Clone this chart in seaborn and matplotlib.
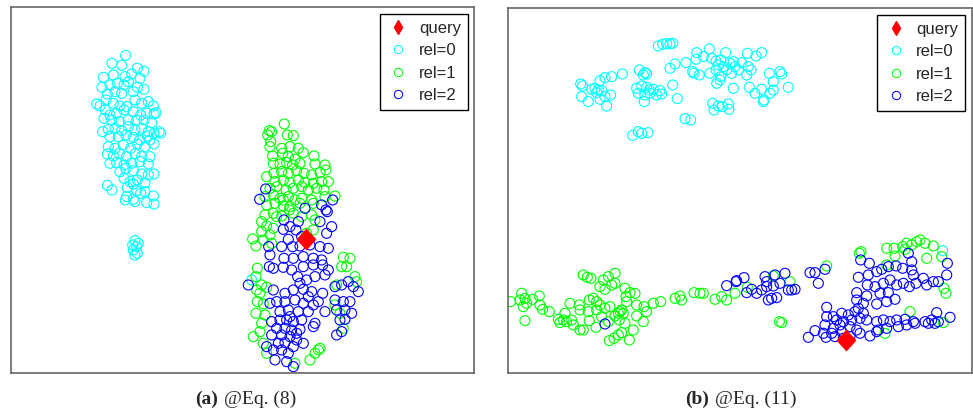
import numpy as np
import matplotlib
matplotlib.use("Agg")
import matplotlib.pyplot as plt
from matplotlib.lines import Line2D
import seaborn as sns

# embedding coordinates (screen units, y grows downward)
a_rel0 = [(377,166),(336,190),(365,196),(412,205),(432,214),(310,232),(340,225),(375,230),(395,222),(420,235),
          (306,262),(330,255),(352,250),(372,255),(385,245),(412,262),(432,268),(322,282),(345,275),(365,280),
          (400,275),(290,312),(318,300),(340,310),(360,318),(380,320),(405,300),(425,310),(445,305),(460,318),
          (316,330),(330,345),(350,340),(372,330),(400,335),(422,345),(440,340),(462,342),(312,355),(335,360),
          (358,365),(385,360),(410,360),(432,360),(455,368),(308,395),(325,388),(345,385),(365,392),(385,380),
          (405,390),(425,385),(445,395),(462,400),(478,395),(330,410),(355,410),(378,405),(400,412),(420,420),
          (442,408),(450,420),(325,440),(345,445),(370,435),(392,445),(412,432),(435,440),(462,432),(322,462),
          (340,468),(358,460),(380,470),(405,462),(425,470),(450,470),(330,490),(350,488),(372,495),(395,490),
          (420,485),(445,492),(360,515),(378,505),(400,512),(425,522),(445,525),(462,522),(372,535),(390,545),
          (412,540),(435,548),(382,562),(400,552),(322,556),(336,570),(410,572),(435,575),(380,590),(400,598),
          (422,580),(460,588),(376,600),(405,605),(440,608),(462,612),(405,722),(398,735),(410,740),(400,750),
          (412,760),(405,765),(415,730),(755,840),(482,400),(300,318),(468,338)]
a_rel1 = [(853,372),(808,392),(803,405),(815,395),(862,405),(880,407),(812,425),(810,440),(845,445),(870,440),
          (895,445),(910,458),(942,468),(818,468),(848,460),(865,470),(885,478),(820,490),(840,492),(860,488),
          (878,495),(900,490),(945,492),(975,495),(978,510),(800,530),(822,520),(845,515),(865,520),(890,512),
          (912,520),(935,525),(960,518),(825,545),(850,540),(870,548),(895,540),(915,548),(940,550),(965,545),
          (985,545),(810,565),(830,560),(858,570),(880,565),(905,560),(925,570),(950,565),(972,570),(795,590),
          (820,585),(840,595),(865,590),(885,600),(905,595),(935,600),(975,590),(1005,588),(800,615),(825,610),
          (850,618),(870,620),(900,610),(940,610),(795,645),(820,640),(845,648),(880,640),(905,650),(935,645),
          (945,660),(785,665),(800,678),(820,685),(785,695),(810,705),(758,717),(768,738),(790,720),(815,730),
          (940,690),(920,700),(772,805),(768,830),(785,855),(770,870),(800,862),(780,880),(772,905),(790,912),
          (768,940),(795,945),(785,970),(780,995),(760,1010),(790,1030),(800,1060),(885,1090),(930,1080),
          (945,1060),(955,1050),(960,1045),(1030,772),(1050,775),(1040,800),(1025,800),(1065,830),(1070,845),
          (1010,855),(1005,915),(1020,940),(1030,985),(830,650),(850,600),(868,630)]
a_rel2 = [(797,567),(779,598),(998,600),(915,625),(965,615),(978,630),(982,635),(852,660),(895,665),(960,665),
          (995,680),(850,688),(870,680),(888,690),(980,700),(865,718),(845,740),(878,740),(900,738),(930,735),
          (960,740),(985,745),(806,740),(810,765),(852,775),(880,775),(910,770),(940,775),(965,780),(808,800),
          (820,805),(850,802),(875,810),(910,800),(940,795),(968,795),(985,810),(893,830),(920,840),(945,830),
          (975,825),(745,855),(820,870),(855,880),(880,870),(910,868),(935,875),(968,880),(1005,860),(1025,855),
          (1045,845),(1060,860),(1075,875),(810,910),(830,905),(855,905),(885,900),(910,910),(940,915),(1005,900),
          (1030,905),(1050,905),(840,935),(865,930),(895,935),(925,935),(975,935),(1010,930),(1035,930),(1055,940),
          (815,965),(840,960),(860,960),(880,965),(905,960),(945,970),(1020,960),(1035,958),(830,985),(855,985),
          (875,990),(900,988),(940,980),(1025,995),(1010,1005),(815,1005),(845,1005),(870,1010),(890,1020),
          (910,1030),(835,1030),(855,1028),(880,1040),(800,1040),(820,1050),(845,1050),(865,1060),(825,1080),
          (860,1085),(880,1100),(900,850),(925,890),(955,905),(870,950),(890,1000),(920,720),(905,710)]
a_query = [(918,718)]

b_rel0 = [(505,138),(518,133),(530,131),(548,130),(540,132),(620,158),(658,147),(707,158),(772,160),(815,158),
          (798,168),(640,170),(618,178),(588,188),(555,192),(540,205),(448,210),(465,218),(470,222),(460,225),
          (397,222),(365,230),(345,233),(330,242),(272,252),(278,258),(305,268),(315,265),(325,270),(335,272),
          (320,278),(275,290),(295,305),(330,298),(345,290),(362,285),(350,318),(440,265),(455,258),(470,262),
          (490,268),(510,272),(445,280),(465,285),(480,280),(500,285),(515,282),(478,270),(463,305),(548,255),
          (562,296),(608,215),(628,225),(612,220),(678,210),(692,180),(720,190),(735,200),(745,210),(710,210),
          (725,220),(700,200),(730,185),(755,188),(692,230),(680,250),(690,240),(730,265),(775,200),(783,210),
          (770,225),(838,220),(870,215),(875,222),(850,245),(895,262),(778,262),(795,280),(815,268),(840,280),
          (850,270),(822,300),(820,305),(668,310),(685,318),(672,330),(715,312),(717,328),(697,320),(585,356),
          (602,360),(428,406),(445,395),(455,400),(474,398),(665,175),(678,183),(685,195),(660,220),(1358,752)]
b_rel1 = [(62,905),(95,880),(90,900),(105,895),(110,910),(100,920),(128,898),(148,888),(150,915),(158,928),
          (178,935),(105,962),(205,958),(225,940),(240,910),(268,915),(298,900),(310,895),(320,905),(280,825),
          (292,832),(303,835),(340,840),(355,830),(375,820),(330,860),(345,868),(365,855),(375,850),(405,865),
          (420,878),(435,880),(408,890),(410,905),(440,915),(462,920),(470,935),(490,910),(512,905),(210,968),
          (230,965),(250,975),(270,990),(280,990),(298,962),(318,982),(335,950),(355,965),(375,948),(390,935),
          (400,940),(388,960),(405,970),(440,948),(460,965),(430,990),(395,998),(385,1005),(372,1015),(358,1022),
          (418,1020),(320,930),(345,925),(360,920),(330,915),(295,935),(270,930),(245,960),(220,960),(555,895),
          (570,888),(575,900),(612,878),(630,880),(640,880),(675,898),(695,890),(710,900),(735,880),(772,862),
          (850,828),(900,845),(868,965),(875,968),(1010,798),(1108,760),(1113,755),(1190,745),(1212,745),(1238,740),
          (1250,730),(1265,735),(1280,725),(1290,720),(1305,730),(1330,738),(1215,768),(1245,748),(1310,775),
          (1355,770),(1362,865),(1368,880),(1190,795),(1260,935),(1185,1000),(1360,968),(385,940),(395,930)]
b_rel2 = [(345,972),(710,857),(738,845),(762,833),(740,842),(770,878),(785,868),(800,880),(815,870),(830,860),
          (850,858),(870,850),(885,820),(855,825),(825,830),(905,870),(915,868),(895,870),(835,900),(845,895),
          (860,893),(830,845),(960,818),(975,818),(1005,808),(985,850),(1112,780),(1138,790),(1105,832),(1135,825),
          (1160,815),(1175,808),(1195,800),(1218,798),(1238,805),(1265,810),(1270,825),(1300,835),(1330,845),
          (1345,845),(1370,825),(1372,790),(1255,760),(1265,785),(1132,855),(1155,860),(1180,850),(1200,840),
          (1220,855),(1240,850),(1258,860),(1278,850),(1310,855),(1100,878),(1130,888),(1170,880),(1195,878),
          (1215,898),(1100,900),(1120,910),(1160,912),(1190,905),(1010,922),(1030,950),(1055,940),(1075,945),
          (1095,935),(1105,925),(1120,940),(1010,950),(1040,960),(1060,965),(1085,960),(1110,955),(1130,960),
          (1005,975),(1030,985),(1050,975),(1080,980),(1100,990),(1000,1000),(1025,1000),(1055,995),(1080,1010),
          (1110,1000),(1140,1008),(1008,1012),(1035,1010),(1060,1015),(955,1012),(975,992),(1160,965),(1180,960),
          (1200,965),(1220,960),(1245,958),(1270,965),(1305,965),(1325,960),(1345,965),(1380,952),(1340,938),
          (1165,990),(1190,985),(1225,980),(1250,975),(1275,970),(1315,970),(1160,995),(1335,970)]
b_query = [(1068,1020)]

labels = ['query', 'rel=0', 'rel=1', 'rel=2']
colors = {'query': '#ff0000', 'rel=0': '#00ffff', 'rel=1': '#00ff00', 'rel=2': '#0000ff'}
captions = [('(a)', '@Eq. (8)'), ('(b)', '@Eq. (11)')]

sns.set_theme(style='white')
plt.rcParams['font.family'] = ['Liberation Sans', 'DejaVu Sans']

W, H = 973, 419
fig = plt.figure(figsize=(W / 100, H / 100), dpi=100)

diamond = [(0, 1), (0.9, 0), (0, -1), (-0.9, 0), (0, 1)]


def panel(rect, rel0, rel1, rel2, query, xlim, ylim):
    ax = fig.add_axes(rect)
    for name, pts in [('rel=0', rel0), ('rel=1', rel1), ('rel=2', rel2)]:
        arr = np.array(pts)
        sns.scatterplot(x=arr[:, 0], y=arr[:, 1], ax=ax, marker='o', s=52,
                        facecolor='none', edgecolor=colors[name], linewidth=0.8)
    q = np.array(query)
    sns.scatterplot(x=q[:, 0], y=q[:, 1], ax=ax, marker=diamond, s=230,
                    color=colors['query'], edgecolor=colors['query'], linewidth=0.5)
    ax.set_xlim(*xlim)
    ax.set_ylim(*ylim)
    ax.set_xticks([])
    ax.set_yticks([])
    for sp in ax.spines.values():
        sp.set_color('#666666')
        sp.set_linewidth(1.2)
    handles = [Line2D([], [], ls='none', marker='d', markersize=7.5, color=colors['query'])]
    for name in labels[1:]:
        handles.append(Line2D([], [], ls='none', marker='o', markersize=6, mfc='none',
                              mec=colors[name], mew=0.75))
    leg = ax.legend(handles, labels, loc='upper right', fontsize=12, frameon=True,
                    fancybox=False, edgecolor='black', framealpha=1, borderaxespad=0.4,
                    handlelength=1.4, handletextpad=0.55, labelspacing=0.45, borderpad=0.4)
    leg.get_frame().set_linewidth(1.0)
    return ax


panel([11 / W, 1 - 373.3 / H, 463.3 / W, 366 / H], a_rel0, a_rel1, a_rel2, a_query,
      (33, 1423), (1120, 22))
panel([508.3 / W, 1 - 373.3 / H, 463.4 / W, 365 / H], b_rel0, b_rel1, b_rel2, b_query,
      (55, 1445), (1120, 25))

# captions under each panel, bold tag + plain text
for (tag, txt), xsplit in zip(captions, [219, 710]):
    fig.text((xsplit - 1) / W, 0.035, tag, ha='right', va='baseline', fontsize=14,
             fontweight='bold', family=['Liberation Serif', 'DejaVu Serif'])
    fig.text((xsplit + 5) / W, 0.035, txt, ha='left', va='baseline', fontsize=14,
             family=['Liberation Serif', 'DejaVu Serif'])

fig.savefig('out.png', dpi=100)
